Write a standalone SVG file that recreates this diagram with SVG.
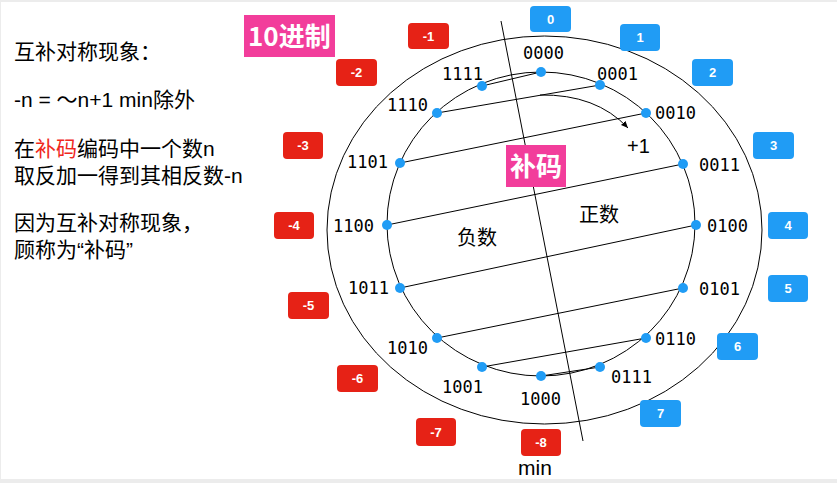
<svg xmlns="http://www.w3.org/2000/svg" width="837" height="483" viewBox="0 0 837 483">
<style>
.bin{font-family:"DejaVu Sans Mono","Liberation Mono",monospace;font-size:17px;fill:#000}
.txt{font-family:"Liberation Sans","Noto Sans CJK SC",sans-serif;font-size:21px;fill:#000}
.bl{fill:#209CF5}
.rd{fill:#E62216}
.bt{font-family:"Liberation Sans","Noto Sans CJK SC",sans-serif;font-size:13px;font-weight:bold;fill:#fff;text-anchor:middle}
.pk{fill:#F23D9B}
.pt{font-family:"Noto Sans CJK SC","Liberation Sans",sans-serif;font-size:26px;font-weight:bold;fill:#fff}
.ln{stroke:#000;stroke-width:1;fill:none}
.dot{fill:#209CF5}
</style>
<defs>
<marker id="ah" markerWidth="8" markerHeight="8" refX="7" refY="4" orient="auto" markerUnits="userSpaceOnUse">
<path d="M0,1 L7,4 L0,7 Z" fill="#000"/>
</marker>
</defs>
<rect x="0" y="0" width="837" height="483" fill="#ECECEC"/>
<rect x="1" y="2" width="836" height="477" fill="#fff"/>

<g id="explanation">
<text class="txt" x="14" y="59">互补对称现象：</text>
<text class="txt" x="14" y="107">-n = ～n+1 min除外</text>
<text class="txt" x="14" y="156">在<tspan fill="#F0281E">补码</tspan>编码中一个数n</text>
<text class="txt" x="14" y="183">取反加一得到其相反数-n</text>
<text class="txt" x="14" y="230">因为互补对称现象，</text>
<text class="txt" x="14" y="257">顾称为“补码”</text>
</g>

<g id="title-decimal">
<rect class="pk" x="244" y="15" width="91" height="42"/>
<text class="pt" x="248" y="46">10进制</text>
</g>

<g id="rings">
<ellipse class="ln" cx="544.5" cy="230" rx="217.5" ry="194"/>
<ellipse class="ln" cx="541" cy="224" rx="154" ry="152"/>
</g>

<g id="connectors">
<line class="ln" x1="501" y1="21" x2="583" y2="441"/>
<line class="ln" x1="482" y1="86" x2="541" y2="72"/>
<line class="ln" x1="437" y1="113" x2="600" y2="85"/>
<line class="ln" x1="400" y1="163" x2="646" y2="113"/>
<line class="ln" x1="387" y1="225" x2="683" y2="164"/>
<line class="ln" x1="400" y1="288" x2="696" y2="225"/>
<line class="ln" x1="437" y1="338" x2="683" y2="288"/>
<line class="ln" x1="482" y1="367" x2="646" y2="338"/>
<line class="ln" x1="541" y1="376" x2="600" y2="367"/>
<path class="ln" d="M540,95 Q596,94 628,128" marker-end="url(#ah)"/>
</g>

<g id="dots">
<circle class="dot" cx="541" cy="72" r="5"/>
<circle class="dot" cx="600" cy="85" r="5"/>
<circle class="dot" cx="646" cy="113" r="5"/>
<circle class="dot" cx="683" cy="164" r="5"/>
<circle class="dot" cx="696" cy="225" r="5"/>
<circle class="dot" cx="683" cy="288" r="5"/>
<circle class="dot" cx="646" cy="338" r="5"/>
<circle class="dot" cx="600" cy="367" r="5"/>
<circle class="dot" cx="541" cy="376" r="5"/>
<circle class="dot" cx="482" cy="367" r="5"/>
<circle class="dot" cx="437" cy="338" r="5"/>
<circle class="dot" cx="400" cy="288" r="5"/>
<circle class="dot" cx="387" cy="225" r="5"/>
<circle class="dot" cx="400" cy="163" r="5"/>
<circle class="dot" cx="437" cy="113" r="5"/>
<circle class="dot" cx="482" cy="86" r="5"/>
</g>

<g id="binary-labels">
<text class="bin" x="523" y="59">0000</text>
<text class="bin" x="597" y="80">0001</text>
<text class="bin" x="655" y="119">0010</text>
<text class="bin" x="699" y="171">0011</text>
<text class="bin" x="707" y="232">0100</text>
<text class="bin" x="699" y="295">0101</text>
<text class="bin" x="655" y="345">0110</text>
<text class="bin" x="611" y="383">0111</text>
<text class="bin" x="520" y="405">1000</text>
<text class="bin" x="442" y="393">1001</text>
<text class="bin" x="387" y="354">1010</text>
<text class="bin" x="348" y="294">1011</text>
<text class="bin" x="333" y="232">1100</text>
<text class="bin" x="347" y="168">1101</text>
<text class="bin" x="387" y="111">1110</text>
<text class="bin" x="442" y="80">1111</text>
</g>

<g id="plus-one">
<text class="txt" x="627" y="153" style="font-size:20px">+1</text>
</g>

<g id="title-complement">
<rect class="pk" x="506" y="145" width="60" height="42"/>
<text class="pt" x="510" y="176">补码</text>
</g>

<g id="region-labels">
<text class="txt" x="457" y="245" style="font-size:20px">负数</text>
<text class="txt" x="579" y="222" style="font-size:20px">正数</text>
<text class="txt" x="518" y="475" style="font-size:21px">min</text>
</g>

<g id="badges-positive">
<rect class="bl" x="530" y="6" width="41" height="26" rx="4"/><text class="bt" x="550.5" y="24">0</text>
<rect class="bl" x="620" y="24" width="40" height="27" rx="4"/><text class="bt" x="640" y="42">1</text>
<rect class="bl" x="692" y="59" width="41" height="27" rx="4"/><text class="bt" x="712.5" y="77">2</text>
<rect class="bl" x="753" y="132" width="41" height="27" rx="4"/><text class="bt" x="773.5" y="150">3</text>
<rect class="bl" x="768" y="212" width="40" height="27" rx="4"/><text class="bt" x="788" y="230">4</text>
<rect class="bl" x="768" y="275" width="40" height="27" rx="4"/><text class="bt" x="788" y="293">5</text>
<rect class="bl" x="717" y="333" width="41" height="27" rx="4"/><text class="bt" x="737.5" y="351">6</text>
<rect class="bl" x="640" y="400" width="41" height="27" rx="4"/><text class="bt" x="660.5" y="418">7</text>
</g>

<g id="badges-negative">
<rect class="rd" x="408" y="23" width="41" height="26" rx="4"/><text class="bt" x="428.5" y="41">-1</text>
<rect class="rd" x="336" y="59" width="41" height="27" rx="4"/><text class="bt" x="356.5" y="77">-2</text>
<rect class="rd" x="283" y="132" width="40" height="27" rx="4"/><text class="bt" x="303" y="150">-3</text>
<rect class="rd" x="274" y="212" width="40" height="27" rx="4"/><text class="bt" x="294" y="230">-4</text>
<rect class="rd" x="288" y="292" width="41" height="27" rx="4"/><text class="bt" x="308.5" y="310">-5</text>
<rect class="rd" x="337" y="365" width="41" height="27" rx="4"/><text class="bt" x="357.5" y="383">-6</text>
<rect class="rd" x="416" y="418" width="40" height="28" rx="4"/><text class="bt" x="436" y="437">-7</text>
<rect class="rd" x="521" y="429" width="40" height="27" rx="4"/><text class="bt" x="541" y="447">-8</text>
</g>
</svg>
